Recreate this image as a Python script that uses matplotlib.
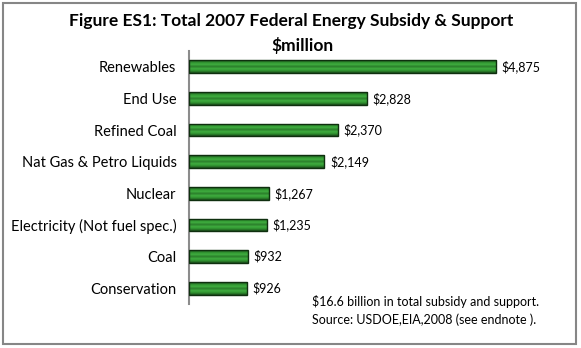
import numpy as np
import matplotlib
matplotlib.use("Agg")
import matplotlib.pyplot as plt
from matplotlib.colors import LinearSegmentedColormap
from matplotlib.patches import Rectangle

categories = ["Renewables", "End Use", "Refined Coal", "Nat Gas & Petro Liquids",
              "Nuclear", "Electricity (Not fuel spec.)", "Coal", "Conservation"]
values = [4875, 2828, 2370, 2149, 1267, 1235, 932, 926]
title = "Figure ES1: Total 2007 Federal Energy Subsidy & Support"
subtitle = "\\$million"
note = "\\$16.6 billion in total subsidy and support.\nSource: USDOE,EIA,2008 (see endnote )."

plt.rcParams['font.family'] = ['Lato', 'DejaVu Sans']

fig = plt.figure(figsize=(5.81, 3.48), dpi=100)
ax = fig.add_axes([189/581, 44/348, 371/581, 253/348])

y = np.arange(len(categories))
bars = ax.barh(y, values, height=0.4, facecolor='none', edgecolor='#0f2f0f', lw=1.0, zorder=3)

# striped green fill, clipped to each bar
stripes = LinearSegmentedColormap.from_list(
    'stripes', ['#1a4d1a', '#2f8f2f', '#3fae3f', '#2a7d2a', '#3fae3f', '#2f8f2f', '#1a4d1a'])
grad = np.linspace(0, 1, 64).reshape(-1, 1)
for p in bars.patches:
    x0, y0 = p.get_x(), p.get_y()
    im = ax.imshow(grad, cmap=stripes, aspect='auto', zorder=2,
                   extent=[x0, x0 + p.get_width(), y0 + p.get_height(), y0])
    im.set_clip_path(p)

ax.set_xlim(0, 5890)
ax.set_ylim(len(categories) - 0.5, -0.5)
ax.set_yticks(y)
ax.set_yticklabels(categories, fontsize=10.5)
ax.tick_params(axis='y', length=0, pad=9)
ax.set_xticks([])
for s in ['top', 'right', 'bottom']:
    ax.spines[s].set_visible(False)
ax.spines['left'].set_color('#8c8c8c')
ax.spines['left'].set_linewidth(1.5)

ax.bar_label(bars, labels=[f"\\${v:,}" for v in values], padding=4, fontsize=9)

fig.text(291/581, 1 - 21/348, title, ha='center', va='center', fontsize=12.5, fontweight='bold')
fig.text(302/581, 1 - 46/348, subtitle, ha='center', va='center', fontsize=12.5, fontweight='bold')
fig.text(312/581, 1 - 295/348, note, ha='left', va='top', fontsize=9, linespacing=1.55)

fig.patches.append(Rectangle((3/581, 4/348), 573/581, 341/348, transform=fig.transFigure,
                             fill=False, edgecolor='#868686', lw=1.5))

fig.savefig("out.png", dpi=100)
